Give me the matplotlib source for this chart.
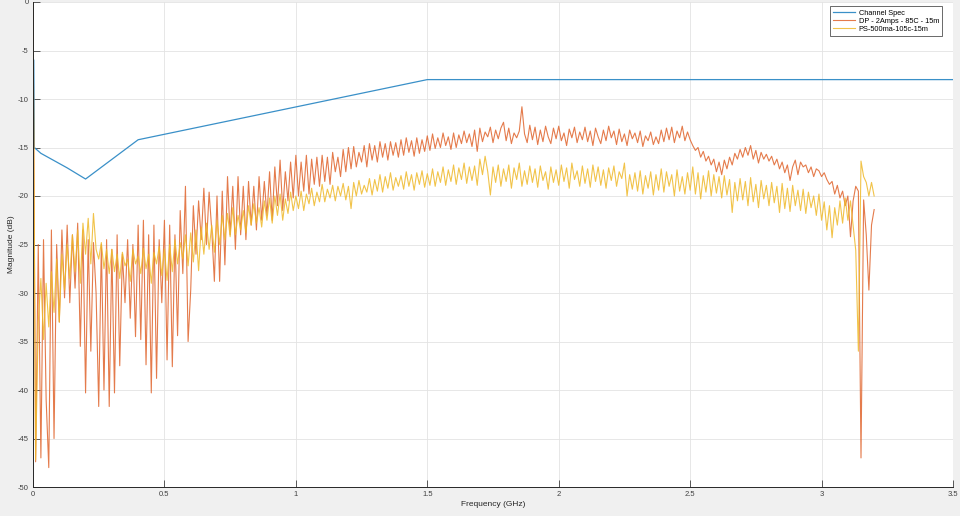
import matplotlib
matplotlib.use('Agg')
import matplotlib.pyplot as plt
import numpy as np

plt.rcParams['font.family'] = ['Liberation Sans', 'DejaVu Sans']
plt.rcParams['axes.unicode_minus'] = False

# channel spec mask (GHz, dB)
spec_f = [0.003, 0.005, 0.03, 0.07, 0.13, 0.2, 0.4, 1.5, 3.5]
spec_db = [-6.0, -15.0, -15.6, -16.2, -17.1, -18.25, -14.2, -8.0, -8.0]

# measured magnitude, 0.01 GHz steps from 0 to 3.2 GHz
dp_db = [
    0.0, -47.4, -25.0, -47.0, -24.5, -41.0, -48.0, -23.5, -45.0, -25.0,
    -33.0, -23.5, -30.5, -23.0, -31.0, -24.0, -29.5, -22.8, -35.5, -23.5,
    -40.3, -24.5, -36.0, -24.8, -30.0, -41.7, -25.0, -40.0, -24.5, -41.7,
    -25.5, -40.3, -24.0, -37.5, -26.0, -31.0, -24.5, -32.6, -25.0, -34.5,
    -23.0, -34.8, -22.5, -37.4, -24.0, -40.3, -23.0, -38.8, -24.5, -31.0,
    -22.5, -36.9, -23.0, -37.6, -24.0, -34.4, -21.5, -28.0, -19.0, -35.0,
    -29.7, -21.0, -26.0, -20.5, -24.5, -19.2, -25.0, -19.6, -23.5, -28.8,
    -20.0, -28.8, -19.5, -27.1, -18.0, -24.0, -19.0, -25.5, -18.0, -24.0,
    -19.0, -24.5, -18.5, -23.0, -19.0, -23.5, -18.0, -22.5, -18.5, -22.0,
    -17.5, -22.5, -17.0, -21.0, -16.3, -21.5, -17.5, -20.5, -16.5, -20.2,
    -15.8, -20.0, -16.5, -19.5, -15.8, -19.8, -16.2, -18.8, -16.0, -19.0,
    -15.8, -18.5, -16.0, -18.8, -15.5, -17.5, -16.0, -18.0, -15.2, -17.5,
    -15.0, -17.2, -14.9, -17.0, -15.5, -16.5, -14.8, -17.0, -14.6, -16.3,
    -14.8, -16.5, -14.4, -16.0, -14.6, -16.3, -14.4, -15.8, -14.5, -16.0,
    -14.2, -15.8, -14.0, -15.5, -14.3, -15.9, -14.0, -15.6, -14.2, -15.4,
    -13.8, -15.3, -13.6, -15.1, -14.0, -15.0, -13.5, -14.8, -13.9, -15.2,
    -13.5, -15.0, -13.7, -14.6, -13.3, -14.5, -13.6, -14.9, -13.2, -15.4,
    -13.0, -14.4, -13.4, -13.9, -12.9, -14.5, -13.2, -14.1, -13.0, -12.4,
    -14.3, -13.0, -14.6, -13.5, -14.0, -13.3, -10.8, -13.6, -14.5, -12.7,
    -14.2, -12.9, -14.7, -13.2, -14.4, -12.8, -13.9, -14.6, -13.0, -14.1,
    -12.8, -14.3, -13.5, -14.8, -13.1, -14.0, -12.9, -14.5, -13.4, -14.2,
    -12.9, -14.4, -13.3, -14.8, -13.0, -13.9, -14.6, -13.2, -14.3, -12.8,
    -14.0, -13.3, -14.7, -13.1, -14.4, -13.6, -14.8, -13.2, -14.1, -13.5,
    -14.5, -13.3, -14.9, -13.8, -14.3, -13.4, -14.7, -13.9, -14.6, -13.2,
    -14.4, -13.0, -14.2, -12.9, -14.5, -13.3, -14.0, -12.8, -14.3, -13.4,
    -14.2, -14.8, -15.3, -15.0, -16.0, -15.4, -16.4, -15.9, -16.8, -16.2,
    -17.5, -16.5, -17.8, -16.3, -17.2, -16.0, -16.8, -15.6, -16.2, -15.2,
    -16.0, -15.0, -15.8, -14.8, -16.2, -15.3, -16.6, -15.5, -16.2, -15.7,
    -16.4, -15.9, -16.8, -16.2, -17.2, -16.5, -17.6, -16.8, -18.4, -17.0,
    -16.3, -17.8, -16.5, -17.0, -16.8, -17.6, -17.0, -18.0, -17.2, -17.4,
    -18.0, -17.6, -18.3, -18.8, -18.5, -19.8, -18.9, -20.2, -19.5, -21.0,
    -20.0, -24.2, -20.5, -19.0, -19.5, -47.0, -20.4, -24.0, -29.7, -23.0,
    -21.4,
]

ps_db = [
    0.0, -47.2, -33.0, -28.5, -34.8, -29.0, -33.5, -27.8, -32.0, -26.5,
    -33.0, -26.0, -29.7, -25.0, -28.5, -24.0, -27.8, -23.5, -29.0, -22.8,
    -26.0, -22.3, -27.0, -21.8, -25.5, -26.5, -24.8, -27.5, -25.5, -28.0,
    -25.5, -27.8, -26.0, -28.5, -25.8, -27.2, -26.5, -28.8, -25.5, -27.0,
    -26.2, -28.0, -25.4, -27.5, -26.0, -29.0, -25.8, -27.0, -25.2, -28.2,
    -25.5, -28.7, -25.0, -27.8, -24.5, -27.0, -24.8, -26.5, -24.0, -27.2,
    -23.8, -26.8, -23.5, -27.7, -23.2, -26.0, -22.8, -25.5, -23.0, -25.8,
    -22.5, -25.0, -22.0, -24.5, -21.8, -24.2, -21.2, -24.0, -22.0, -23.5,
    -21.5, -23.8, -21.0, -23.0, -20.8, -22.8, -21.2, -23.2, -20.5, -22.5,
    -20.2, -22.8, -20.0, -22.0, -19.8, -22.5, -20.3, -21.8, -19.6, -21.5,
    -20.0, -21.3, -19.5, -21.5, -19.8, -20.8, -19.2, -21.0, -19.6, -20.6,
    -18.8, -20.6, -19.3, -20.2, -18.9, -20.5, -19.0, -20.0, -18.7, -20.4,
    -19.0, -21.3, -18.6, -20.0, -18.4, -19.8, -18.9, -19.6, -18.2, -19.9,
    -18.3, -19.5, -17.8, -19.6, -18.0, -19.2, -17.6, -19.4, -18.1, -19.0,
    -17.9, -19.3, -17.5, -19.0, -17.8, -19.4, -17.6, -18.8, -17.4, -19.1,
    -17.7, -18.9, -17.2, -19.0, -17.5, -18.6, -17.0, -18.9, -17.3, -18.5,
    -16.8, -18.8, -17.1, -18.3, -16.6, -18.7, -17.0, -18.4, -16.9, -18.9,
    -16.2, -17.8, -15.9, -17.5, -19.9, -17.0, -18.6, -16.8, -19.0, -17.2,
    -18.5, -16.8, -19.2, -17.1, -18.3, -16.6, -19.0, -17.4, -18.8, -16.9,
    -18.6, -17.2, -19.1, -16.9, -18.4, -17.5, -19.3, -17.0, -18.6, -17.3,
    -18.9, -16.8, -18.5, -17.1, -19.2, -16.6, -18.3, -17.4, -19.0, -16.9,
    -18.7, -17.2, -19.1, -16.8, -18.5, -17.0, -18.9, -17.3, -19.2, -17.1,
    -18.4, -16.9, -19.0, -17.5, -18.2, -16.6, -20.0, -17.8, -19.3, -17.6,
    -19.5, -17.4, -19.8, -17.9, -19.2, -17.5, -19.9, -17.8, -19.4, -17.2,
    -19.6, -17.5, -19.0, -17.8, -20.0, -17.3, -19.5, -18.0, -19.8, -17.6,
    -19.4, -17.0, -19.8, -17.6, -20.3, -17.9, -19.6, -17.4, -20.0, -17.8,
    -19.7, -18.0, -20.2, -17.9, -19.9, -18.3, -21.7, -18.6, -20.5, -18.2,
    -20.4, -18.5, -21.0, -18.1, -20.6, -18.8, -21.2, -18.4, -20.3, -18.9,
    -21.0, -18.6, -20.7, -19.0, -21.7, -18.7, -21.3, -19.2, -21.6, -18.9,
    -21.0, -19.4, -21.5, -19.3, -21.8, -19.6, -21.2, -20.0, -22.0, -19.8,
    -22.5, -20.6, -23.5, -21.0, -24.3, -21.2, -23.0, -20.5, -22.8, -20.2,
    -22.5, -20.5, -23.0, -25.6, -36.0, -16.4, -18.0, -18.6, -20.0, -18.6,
    -20.0,
]

freq = np.linspace(0, 3.2, len(dp_db))

fig = plt.figure(figsize=(9.6, 5.16), dpi=100, facecolor='#f0f0f0')
ax = fig.add_axes([33 / 960, 29 / 516, 920 / 960, 485 / 516])
ax.set_facecolor('white')

ax.plot(spec_f, spec_db, color='#3a90c8', lw=0.9, label='Channel Spec')
ax.plot(freq, dp_db, color='#e0642c', lw=0.8, alpha=0.85, label='DP - 2Amps - 85C - 15m')
ax.plot(freq, ps_db, color='#efb92a', lw=0.8, alpha=0.85, label='PS-500ma-105c-15m')

ax.set_xlim(0, 3.5)
ax.set_ylim(-50, 0)
ax.set_xticks(np.arange(0, 3.51, 0.5))
ax.set_xticklabels(['0', '0.5', '1', '1.5', '2', '2.5', '3', '3.5'])
ax.set_yticks(np.arange(-50, 1, 5))
ax.grid(True, color='#e3e3e3', lw=0.6)
ax.set_axisbelow(True)
for s in ['top', 'right']:
    ax.spines[s].set_visible(False)
for s in ['left', 'bottom']:
    ax.spines[s].set_color('#262626')
    ax.spines[s].set_linewidth(0.7)
ax.tick_params(direction='in', length=5, width=0.6, labelsize=5.5,
               colors='#404040', pad=3)
ax.set_xlabel('Frequency (GHz)', fontsize=6, color='#262626', labelpad=2)
ax.set_ylabel('Magnitude (dB)', fontsize=6, color='#262626', labelpad=2)

leg = ax.legend(loc='upper right', fontsize=5.3, handlelength=3.0,
                borderaxespad=0.6, frameon=True, fancybox=False,
                labelspacing=0.15, borderpad=0.4, handletextpad=0.5,
                bbox_to_anchor=(0.993, 1.0))
leg.get_frame().set_edgecolor('#262626')
leg.get_frame().set_linewidth(0.6)

fig.savefig('out.png', dpi=100, facecolor=fig.get_facecolor())
